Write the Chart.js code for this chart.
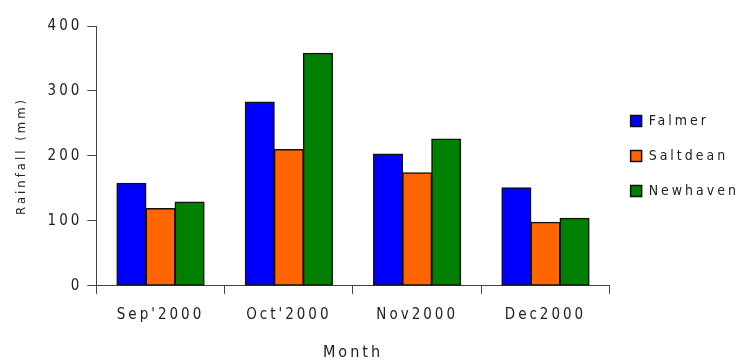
<!DOCTYPE html>
<html>
<head>
<meta charset="utf-8">
<script src="https://cdn.jsdelivr.net/npm/chart.js@4"></script>
<style>
  html, body { margin: 0; padding: 0; background: #fff; }
  #wrap { width: 745px; height: 362px; }
</style>
</head>
<body>
<div id="wrap"><canvas id="rain-chart"></canvas></div>
<script>
// Monthly rainfall per station
const months = ["Sep'2000", "Oct'2000", "Nov2000", "Dec2000"];
const falmer = [158, 283, 203, 151];
const saltdean = [119, 210, 174, 98];
const newhaven = [129, 358, 226, 104];
const yTicks = [0, 100, 200, 300, 400];

const fontFamily = "'Liberation Sans Narrow', 'DejaVu Sans Condensed', 'Liberation Sans', sans-serif";

// spread the letters out a bit, like the original
const spacing = {
  id: 'spacing',
  beforeLayout(chart) { chart.ctx.letterSpacing = '3px'; },
  beforeDraw(chart) { chart.ctx.letterSpacing = '3px'; }
};

const ctx = document.getElementById('rain-chart').getContext('2d');
const rainChart = new Chart(ctx, {
  type: 'bar',
  data: {
    labels: months,
    datasets: [
      { label: 'Falmer', data: falmer, backgroundColor: '#0000ff' },
      { label: 'Saltdean', data: saltdean, backgroundColor: '#ff6600' },
      { label: 'Newhaven', data: newhaven, backgroundColor: '#008000' }
    ]
  },
  options: {
    responsive: true,
    maintainAspectRatio: false,
    animation: false,
    layout: { padding: { top: 26, left: 10, right: -4, bottom: 0 } },
    datasets: {
      bar: {
        borderColor: '#111',
        borderWidth: 1.5,
        borderSkipped: false,
        inflateAmount: 0.5,
        categoryPercentage: 0.68,
        barPercentage: 1.0
      }
    },
    plugins: {
      legend: {
        position: 'right',
        fullSize: false,
        labels: {
          boxWidth: 11,
          boxHeight: 11,
          padding: 21,
          color: '#222',
          font: { family: fontFamily, size: 14 },
          useBorderRadius: false
        }
      },
      tooltip: { enabled: false }
    },
    scales: {
      x: {
        grid: { drawOnChartArea: false, color: '#444', tickLength: 8, offset: true },
        border: { color: '#444', width: 1 },
        ticks: { color: '#222', font: { family: fontFamily, size: 15 }, padding: 12 },
        title: { display: true, text: 'Month', color: '#222', font: { family: fontFamily, size: 16 }, padding: { top: 7, bottom: 0 } }
      },
      y: {
        min: 0,
        max: 400,
        afterBuildTicks: axis => { axis.ticks = yTicks.map(v => ({ value: v })); },
        grid: { drawOnChartArea: false, color: '#444', tickLength: 9 },
        border: { color: '#444', width: 1 },
        ticks: { color: '#222', font: { family: fontFamily, size: 15 }, padding: 5 },
        title: { display: true, text: 'Rainfall (mm)', color: '#222', font: { family: fontFamily, size: 13 }, padding: { bottom: 13 } }
      }
    }
  },
  plugins: [spacing]
});
</script>
</body>
</html>
